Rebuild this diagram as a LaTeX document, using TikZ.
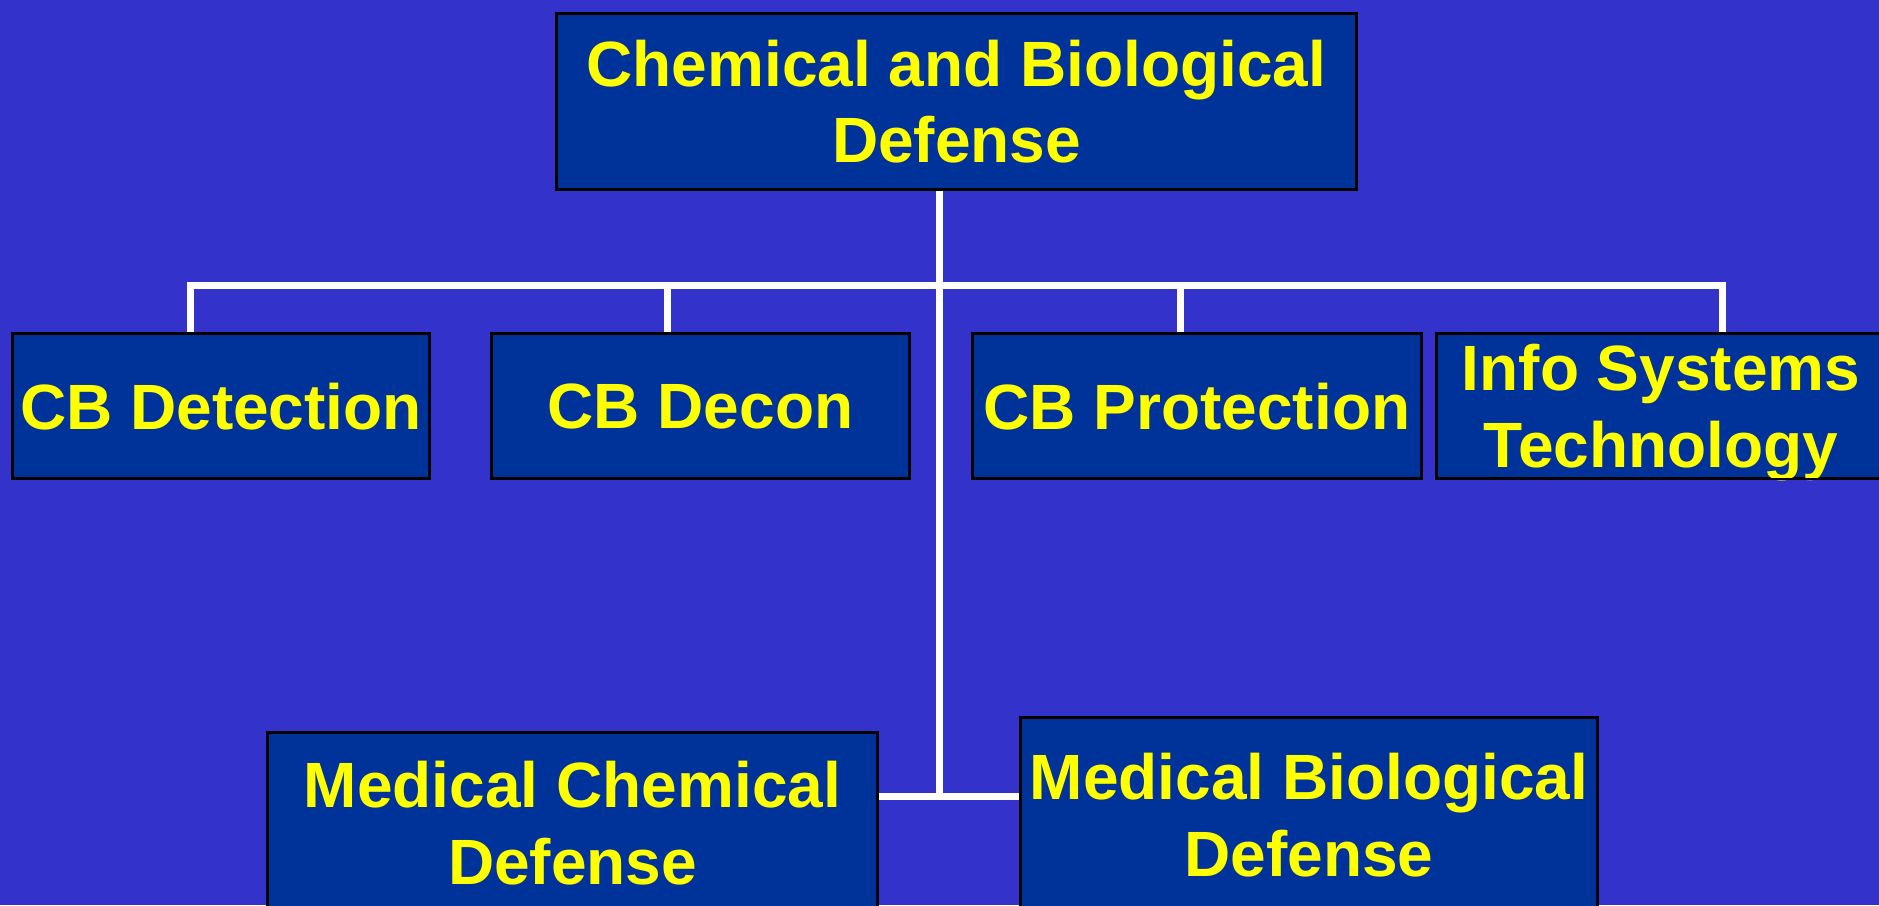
\documentclass[tikz,border=0pt]{standalone}
\usepackage{fontspec}
\setmainfont{Liberation Sans}
\definecolor{bgblue}{RGB}{51,51,204}
\definecolor{boxblue}{RGB}{0,51,153}
\definecolor{txtyellow}{RGB}{255,255,0}
\begin{document}
\begin{tikzpicture}[x=1pt,y=-1pt,
  orgbox/.style={draw=black, line width=2pt, fill=boxblue, rectangle, inner sep=0pt,
    anchor=north west, align=center, text=txtyellow, text depth=0pt,
    font=\fontsize{64}{76.5}\selectfont\bfseries},
  wire/.style={draw=white, line width=7pt, line join=miter}]
\useasboundingbox (0,0) rectangle (1879,905);
\clip (0,0) rectangle (1879,905);
\fill[bgblue] (0,0) rectangle (1879,905);
% coordinates for connector columns and rows
\coordinate (tx) at (939,0);
\coordinate (busy) at (0,285);
\coordinate (jy) at (0,796);
\coordinate (c1) at (190,0);
\coordinate (c2) at (667,0);
\coordinate (c3) at (1180,0);
\coordinate (c4) at (1722,0);
% boxes
\node[orgbox, minimum width=799pt, minimum height=175pt] (top) at (556,13) {Chemical and Biological\\Defense};
\node[orgbox, minimum width=416pt, minimum height=144pt] (det) at (12,333) {CB Detection};
\node[orgbox, minimum width=417pt, minimum height=144pt] (decon) at (491,333) {CB Decon};
\node[orgbox, minimum width=448pt, minimum height=144pt] (prot) at (972,333) {CB Protection};
\node[orgbox, minimum width=448pt, minimum height=144pt] (info) at (1436,333) {Info Systems \\Technology};
\node[orgbox, minimum width=609pt, minimum height=180pt] (medchem) at (267,732) {Medical Chemical\\Defense};
\node[orgbox, minimum width=576pt, minimum height=194pt] (medbio) at (1020,717) {Medical Biological\\Defense};
% connectors
\draw[wire] (top.south -| tx) -- (tx |- jy);
\draw[wire] (medchem.east |- jy) -- (medbio.west |- jy);
\draw[wire] (c1 |- det.north) -- (c1 |- busy) -- (c4 |- busy) -- (c4 |- info.north);
\draw[wire] (c2 |- busy) -- (c2 |- decon.north);
\draw[wire] (c3 |- busy) -- (c3 |- prot.north);
% redraw box borders over wire ends
\foreach \n in {top,det,decon,prot,info,medchem,medbio}
  \draw[black, line width=2pt] (\n.north west) rectangle (\n.south east);
\end{tikzpicture}
\end{document}
